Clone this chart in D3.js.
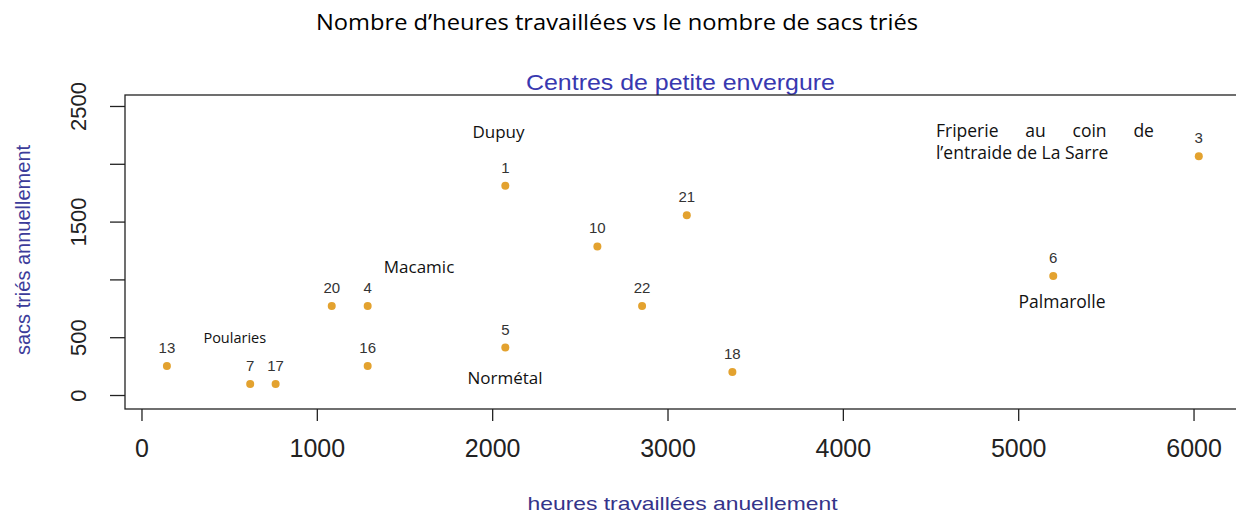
<!DOCTYPE html>
<html lang="fr">
  <head>
    <meta charset="UTF-8" />
    <title>Heures travaillées vs sacs triés</title>
    <script src="https://cdn.jsdelivr.net/npm/d3@7"></script>
    <style>
      body {
        margin: 0;
        background-color: #fff;
      }

      svg {
        display: block;
      }

      .titre {
        font-family: 'Open Sans', sans-serif;
        fill: #000;
      }

      .note {
        font-family: 'Open Sans', sans-serif;
        fill: #111;
      }

      .axe text {
        font-family: 'Liberation Sans', Arial, sans-serif;
        fill: #222;
      }

      .axe line {
        stroke: #222;
        stroke-width: 1.3;
      }

      .etiquette {
        font-family: 'Liberation Sans', Arial, sans-serif;
        font-size: 15px;
        fill: #333;
        text-anchor: middle;
      }

      .point {
        fill: #e3a22f;
      }
    </style>
  </head>
  <body>
    <svg width="1236" height="514"></svg>

    <script>
      // numéros des centres
      const centres = [1, 3, 4, 5, 6, 7, 10, 13, 16, 17, 18, 20, 21, 22];
      // heures travaillées annuellement
      const heures = [2075, 6030, 1290, 2075, 5200, 620, 2600, 145, 1290, 765, 3370, 1085, 3110, 2855];
      // sacs triés annuellement
      const sacs = [1810, 2065, 770, 410, 1030, 95, 1285, 250, 250, 95, 200, 770, 1555, 770];

      const xTicks = [0, 1000, 2000, 3000, 4000, 5000, 6000];
      const yTicks = [0, 500, 1000, 1500, 2000, 2500];
      const yLabels = ['0', '500', '', '1500', '', '2500'];

      // noms de localités écrits sur le graphique (coordonnées en unités des axes)
      const noms = ['Dupuy', 'Macamic', 'Poularies', 'Normétal', 'Palmarolle'];
      const nomsHeures = [2036, 1583, 532, 2073, 5250];
      const nomsSacs = [2278, 1110, 493, 147, 804];
      const friperie = ['Friperie au coin de', 'l’entraide de La Sarre'];
      const friperieHeures = 4531;
      const friperieSacs = [2289, 2096];

      const svg = d3.select('svg');
      const box = { left: 125, top: 95, right: 1240, bottom: 409 };

      const x = d3.scaleLinear().domain([-94, 6265]).range([box.left, box.right]);
      const y = d3.scaleLinear().domain([-121, 2595]).range([box.bottom, box.top]);

      // titre du document
      svg
        .append('text')
        .attr('class', 'titre')
        .attr('x', 617)
        .attr('y', 30)
        .attr('text-anchor', 'middle')
        .attr('font-size', 21)
        .attr('textLength', 602)
        .attr('lengthAdjust', 'spacingAndGlyphs')
        .text('Nombre d’heures travaillées vs le nombre de sacs triés');

      // titre du graphique R
      svg
        .append('text')
        .attr('x', (box.left + box.right) / 2 - 2)
        .attr('y', 90)
        .attr('text-anchor', 'middle')
        .attr('font-family', 'Liberation Sans, Arial, sans-serif')
        .attr('font-size', 22)
        .attr('textLength', 309)
        .attr('lengthAdjust', 'spacingAndGlyphs')
        .attr('fill', '#3838b0')
        .text('Centres de petite envergure');

      // axes
      const xAxis = svg
        .append('g')
        .attr('class', 'axe')
        .attr('transform', `translate(0,${box.bottom})`)
        .call(d3.axisBottom(x).tickValues(xTicks).tickSize(12).tickPadding(18).tickFormat(d3.format('d')));
      xAxis.select('.domain').remove();
      xAxis.selectAll('text').attr('font-size', 25);

      const yAxis = svg
        .append('g')
        .attr('class', 'axe')
        .attr('transform', `translate(${box.left},0)`)
        .call(d3.axisLeft(y).tickValues(yTicks).tickSize(15).tickFormat((d, i) => yLabels[i]));
      yAxis.select('.domain').remove();
      yAxis
        .selectAll('text')
        .attr('font-size', 22)
        .attr('x', null)
        .attr('dy', null)
        .attr('text-anchor', 'middle')
        .attr('transform', 'translate(-39,0) rotate(-90)');

      // cadre
      svg
        .append('rect')
        .attr('x', box.left)
        .attr('y', box.top)
        .attr('width', box.right - box.left)
        .attr('height', box.bottom - box.top)
        .attr('fill', 'none')
        .attr('stroke', '#222')
        .attr('stroke-width', 1.3);

      // titres des axes
      svg
        .append('text')
        .attr('x', (box.left + box.right) / 2)
        .attr('y', 510)
        .attr('text-anchor', 'middle')
        .attr('font-family', 'Liberation Sans, Arial, sans-serif')
        .attr('font-size', 19)
        .attr('textLength', 310)
        .attr('lengthAdjust', 'spacingAndGlyphs')
        .attr('fill', '#34348a')
        .text('heures travaillées anuellement');

      svg
        .append('text')
        .attr('transform', `translate(30,${(box.top + box.bottom) / 2 - 2}) rotate(-90)`)
        .attr('text-anchor', 'middle')
        .attr('font-family', 'Liberation Sans, Arial, sans-serif')
        .attr('font-size', 20)
        .attr('fill', '#3c3c9a')
        .text('sacs triés annuellement');

      // points
      svg
        .selectAll('.point')
        .data(centres)
        .enter()
        .append('circle')
        .attr('class', 'point')
        .attr('cx', (d, i) => x(heures[i]))
        .attr('cy', (d, i) => y(sacs[i]))
        .attr('r', 4);

      svg
        .selectAll('.etiquette')
        .data(centres)
        .enter()
        .append('text')
        .attr('class', 'etiquette')
        .attr('x', (d, i) => x(heures[i]))
        .attr('y', (d, i) => y(sacs[i]) - 13)
        .text((d) => d);

      // noms des localités
      const tailles = { Poularies: 14.5, Palmarolle: 17.5 };
      svg
        .selectAll('.nom')
        .data(noms)
        .enter()
        .append('text')
        .attr('class', 'note nom')
        .attr('x', (d, i) => x(nomsHeures[i]))
        .attr('y', (d, i) => y(nomsSacs[i]))
        .attr('dy', '0.35em')
        .attr('text-anchor', 'middle')
        .attr('font-size', (d) => tailles[d] || 17)
        .text((d) => d);

      // texte justifié sur deux lignes
      const lignes = svg
        .selectAll('.friperie')
        .data(friperie)
        .enter()
        .append('text')
        .attr('class', 'note friperie')
        .attr('x', x(friperieHeures))
        .attr('y', (d, i) => y(friperieSacs[i]))
        .attr('dy', '0.35em')
        .attr('font-size', 17.5)
        .text((d) => d);

      const largeur = 218;
      lignes
        .filter((d, i) => i === 0)
        .each(function (d) {
          const naturel = this.getComputedTextLength();
          const espaces = d.split(' ').length - 1;
          d3.select(this).attr('word-spacing', (largeur - naturel) / espaces);
        });
    </script>
  </body>
</html>
